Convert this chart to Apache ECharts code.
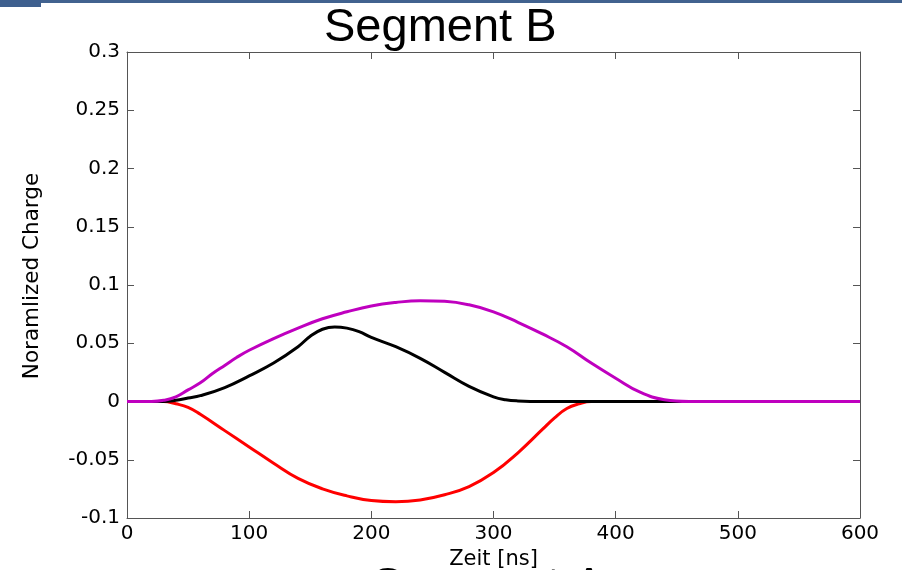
<!DOCTYPE html>
<html>
<head>
<meta charset="utf-8">
<script src="https://cdn.jsdelivr.net/npm/echarts@6/dist/echarts.min.js"></script>
<style>html,body{margin:0;padding:0;background:#fff;overflow:hidden;}#c{width:902px;height:570px;}</style>
</head>
<body>
<div id="c"></div>
<script>
// ---- data ----
var titleText = "Segment B";
var nextTitleText = "Segment A";
var xName = "Zeit [ns]";
var yName = "Noramlized Charge";
var xTicks = [0, 100, 200, 300, 400, 500, 600];
var yTicks = [-0.1, -0.05, 0, 0.05, 0.1, 0.15, 0.2, 0.25, 0.3];
var yTickLabels = ["-0.1", "-0.05", "0", "0.05", "0.1", "0.15", "0.2", "0.25", "0.3"];

var redT = [0, 30, 40, 50, 60, 80, 100, 120, 140, 160, 180, 200, 220, 240, 260, 280, 300, 320, 340, 350, 360, 370, 380, 450, 600];
var redV = [0, 0, -0.002, -0.005, -0.011, -0.025, -0.039, -0.053, -0.066, -0.075, -0.081, -0.085, -0.086, -0.0845, -0.080, -0.073, -0.061, -0.044, -0.024, -0.014, -0.006, -0.002, 0, 0, 0];

var blackT = [0, 30, 40, 50, 60, 80, 100, 120, 140, 150, 160, 170, 180, 190, 200, 220, 240, 260, 280, 300, 310, 320, 340, 450, 600];
var blackV = [0, 0, 0.001, 0.003, 0.005, 0.012, 0.022, 0.033, 0.047, 0.056, 0.062, 0.064, 0.063, 0.060, 0.055, 0.047, 0.037, 0.025, 0.013, 0.004, 0.0015, 0.0005, 0, 0, 0];

var magT = [0, 20, 30, 40, 50, 60, 70, 80, 90, 100, 120, 140, 160, 180, 200, 220, 240, 260, 280, 300, 320, 340, 360, 380, 400, 420, 440, 460, 480, 600];
var magV = [0, 0, 0.001, 0.004, 0.010, 0.016, 0.024, 0.031, 0.038, 0.044, 0.054, 0.063, 0.071, 0.077, 0.082, 0.085, 0.0865, 0.086, 0.083, 0.077, 0.068, 0.058, 0.047, 0.033, 0.020, 0.008, 0.0015, 0, 0, 0];

function pairs(t, v) { return t.map(function (x, i) { return [x, v[i]]; }); }

var chart = echarts.init(document.getElementById('c'), null, {renderer: 'canvas'});
var axisColor = '#555';
var font = 'DejaVu Sans';
function fmtY(v) {
  var i = yTicks.findIndex(function (t) { return Math.abs(t - v) < 1e-9; });
  return i >= 0 ? yTickLabels[i] : '';
}
var option = {
  animation: false,
  backgroundColor: '#fff',
  title: {
    text: titleText, left: 324, top: 5, padding: 0,
    textStyle: {fontFamily: 'Liberation Sans', fontSize: 47, fontWeight: 'normal', color: '#000'}
  },
  grid: {left: 127, right: 42, top: 52, bottom: 52, containLabel: false, outerBoundsMode: 'none'},
  xAxis: [{
    type: 'value', min: xTicks[0], max: xTicks[xTicks.length - 1], interval: 100, position: 'bottom',
    name: xName, nameLocation: 'middle', nameGap: 25,
    nameTextStyle: {fontFamily: font, fontSize: 21, color: '#000'},
    axisLine: {show: true, onZero: false, lineStyle: {color: axisColor, width: 1}},
    axisTick: {show: true, inside: true, length: 7, lineStyle: {color: axisColor}},
    axisLabel: {margin: 6, fontFamily: font, fontSize: 20, color: '#000'},
    splitLine: {show: false}
  }, {
    type: 'value', min: xTicks[0], max: xTicks[xTicks.length - 1], interval: 100, position: 'top',
    axisLine: {show: true, onZero: false, lineStyle: {color: axisColor, width: 1}},
    axisTick: {show: true, inside: true, length: 7, lineStyle: {color: axisColor}},
    axisLabel: {show: false}, splitLine: {show: false}
  }],
  yAxis: [{
    type: 'value', min: yTicks[0], max: yTicks[yTicks.length - 1], interval: 0.05, position: 'left',
    name: yName, nameLocation: 'middle', nameGap: 84,
    nameTextStyle: {fontFamily: font, fontSize: 21.5, color: '#000', padding: [0, 0, 0, 18]},
    axisLine: {show: true, onZero: false, lineStyle: {color: axisColor, width: 1}},
    axisTick: {show: true, inside: true, length: 7, lineStyle: {color: axisColor}},
    axisLabel: {margin: 7, fontFamily: font, fontSize: 20, color: '#000', formatter: fmtY},
    splitLine: {show: false}
  }, {
    type: 'value', min: yTicks[0], max: yTicks[yTicks.length - 1], interval: 0.05, position: 'right',
    axisLine: {show: true, onZero: false, lineStyle: {color: axisColor, width: 1}},
    axisTick: {show: true, inside: true, length: 7, lineStyle: {color: axisColor}},
    axisLabel: {show: false}, splitLine: {show: false}
  }],
  series: [
    {type: 'line', data: pairs(redT, redV), showSymbol: false, smooth: 0.45,
     lineStyle: {color: '#FF0000', width: 3}, itemStyle: {color: '#FF0000'}},
    {type: 'line', data: pairs(blackT, blackV), showSymbol: false, smooth: 0.45,
     lineStyle: {color: '#000000', width: 3}, itemStyle: {color: '#000000'}},
    {type: 'line', data: pairs(magT, magV), showSymbol: false, smooth: 0.45,
     lineStyle: {color: '#BF00BF', width: 3}, itemStyle: {color: '#BF00BF'}}
  ],
  graphic: [
    {type: 'rect', left: 0, top: 0, shape: {width: 902, height: 3}, style: {fill: '#41628F'}, silent: true},
    {type: 'rect', left: 0, top: 0, shape: {width: 41, height: 7}, style: {fill: '#3E5F8E'}, silent: true},
    {type: 'text', x: 372, y: 587, style: {text: nextTitleText, font: '47px "Liberation Sans"', fill: '#000', verticalAlign: 'middle'}, silent: true}
  ]
};
chart.setOption(option);
</script>
</body>
</html>
